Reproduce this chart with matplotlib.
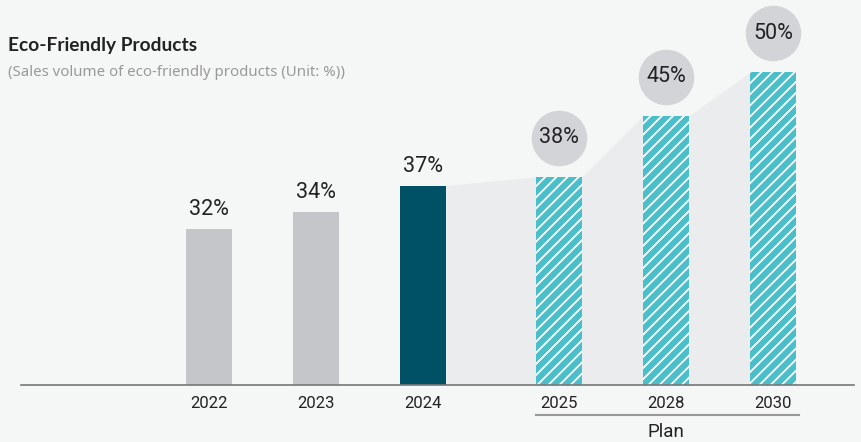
import matplotlib.pyplot as plt
from matplotlib.transforms import ScaledTranslation, blended_transform_factory

# data
years = ['2022', '2023', '2024', '2025', '2028', '2030']
values = [32, 34, 37, 38, 45, 50]
positions = [0, 1, 2, 3.27, 4.27, 5.27]
plan_start = 3  # index of first plan year

bg = '#f5f7f6'
gray_bar = '#c4c6ca'
dark_teal = '#005166'
teal = '#4bbfc9'
area_col = '#ebecee'
circle_col = '#d2d4d8'

plt.rcParams['font.family'] = ['Roboto', 'DejaVu Sans']
plt.rcParams['hatch.linewidth'] = 1.3

fig = plt.figure(figsize=(8.62, 4.42), dpi=100, facecolor=bg)
ax = fig.add_axes([0, 57 / 442, 1, 385 / 442])
ax.set_facecolor(bg)
ax.set_xlim(-209 / 107, 653 / 107)
ax.set_ylim(14.1, 58.3)
ax.axis('off')

w = 0.43

# shaded area between bar tops (2024 -> 2030)
xs, ys = [], []
for p, v in zip(positions[2:], values[2:]):
    xs += [p - w / 2, p + w / 2]
    ys += [v, v]
xs, ys = xs[1:-1], ys[1:-1]
ax.fill_between(xs, ys, 0, color=area_col, lw=0, zorder=1)

# bars
for i, (p, v) in enumerate(zip(positions, values)):
    if i < 2:
        ax.bar(p, v, width=w, color=gray_bar, lw=0, zorder=2)
    elif i == 2:
        ax.bar(p, v, width=w, color=dark_teal, lw=0, zorder=2)
    else:
        ax.bar(p, v, width=w, color=teal, edgecolor='white', hatch='///', lw=0, zorder=2)

# baseline
ax.plot([-1.76, 6.03], [14.1, 14.1], color='#777777', lw=1.2, clip_on=False, zorder=3)

# value labels
for i, (p, v) in enumerate(zip(positions, values)):
    if i < plan_start:
        ax.annotate(f'{v}%', (p, v), xytext=(0, 14), textcoords='offset points',
                    ha='center', va='center', fontsize=15.5, color='#222222')
    else:
        off = ScaledTranslation(0, 28 / 72, fig.dpi_scale_trans)
        ax.plot(p, v, 'o', ms=40, color=circle_col, mec='none',
                transform=ax.transData + off, clip_on=False, zorder=4)
        ax.annotate(f'{v}%', (p, v), xytext=(0, 28), textcoords='offset points',
                    ha='center', va='center', fontsize=15.5,
                    color='#222222', zorder=5)

# year labels
trans = blended_transform_factory(ax.transData, fig.transFigure)
for p, y in zip(positions, years):
    ax.text(p, 1 - 403 / 442, y, transform=trans, ha='center', va='center',
            fontsize=12, color='#222222')

# plan bracket
x0 = positions[plan_start] - w / 2
x1 = positions[-1] + w / 2 + 3 / 107
ax.plot([x0, x1], [1 - 415 / 442] * 2, color='#999999', lw=1.5, transform=trans, clip_on=False)
ax.text(positions[4], 1 - 432 / 442, 'Plan', transform=trans, ha='center', va='center',
        fontsize=13.5, color='#222222')

# title
fig.text(8 / 862, 1 - 45 / 442, 'Eco-Friendly Products', fontsize=13.8, fontweight='bold',
         color='#222222', ha='left', va='center', family=['Lato', 'DejaVu Sans'])
fig.text(8 / 862, 1 - 73 / 442, '(Sales volume of eco-friendly products (Unit: %))', fontsize=10.8,
         color='#999999', ha='left', va='center', family=['Noto Sans', 'DejaVu Sans'])

fig.savefig('out.png', dpi=100, facecolor=bg)
